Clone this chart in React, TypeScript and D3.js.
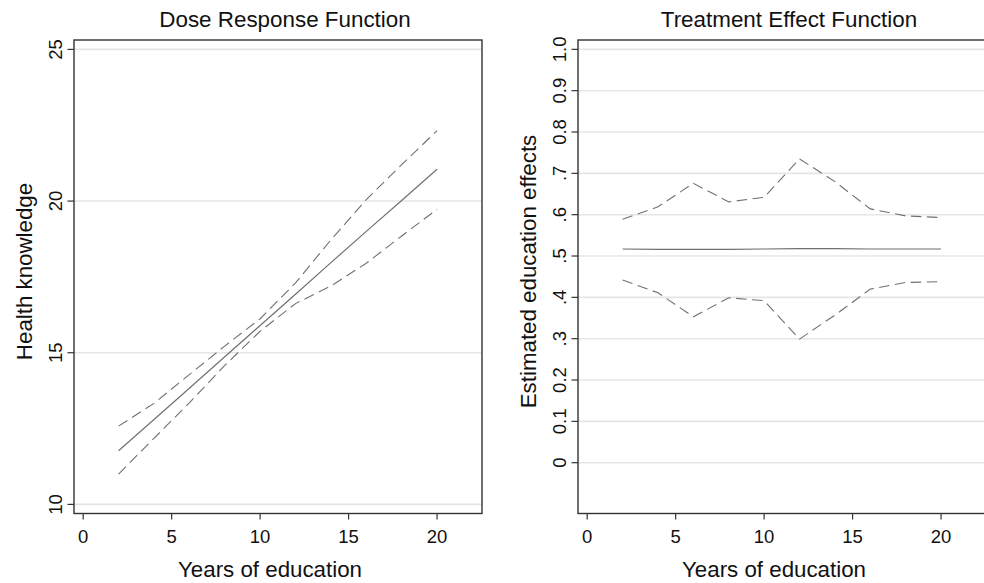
import React from "react";
import * as d3 from "d3";

// ---- Data ----
const years = [2, 4, 6, 8, 10, 12, 14, 16, 18, 20];

// Dose response function (health knowledge)
const doseEstimate = [11.77, 12.8, 13.83, 14.87, 15.9, 16.93, 17.97, 19.0, 20.02, 21.05];
const doseUpper = [12.58, 13.33, 14.28, 15.22, 16.12, 17.3, 18.72, 20.05, 21.2, 22.32];
const doseLower = [11.0, 12.18, 13.35, 14.58, 15.71, 16.62, 17.2, 17.95, 18.85, 19.73];

// Treatment effect function (estimated education effects)
const effEstimate = [0.517, 0.516, 0.516, 0.516, 0.517, 0.518, 0.518, 0.517, 0.517, 0.517];
const effUpper = [0.589, 0.619, 0.676, 0.631, 0.642, 0.735, 0.68, 0.614, 0.597, 0.593];
const effLower = [0.442, 0.411, 0.353, 0.399, 0.392, 0.299, 0.357, 0.42, 0.436, 0.438];

const xTicks = [0, 5, 10, 15, 20];
const doseYTicks = [10, 15, 20, 25];
const effYTicks = [0, 0.1, 0.2, 0.3, 0.4, 0.5, 0.6, 0.7, 0.8, 0.9, 1.0];
const effYTickLabels = ["0", "0.1", "0.2", ".3", ".4", ".5", ".6", ".7", "0.8", "0.9", "1.0"];

const FONT = "'Liberation Sans', Arial, Helvetica, sans-serif";
const TOP = 40;
const BOTTOM = 513.5;
const PW = 408;

type PanelProps = {
  left: number;
  title: string;
  yTitle: string;
  yDomain: [number, number];
  yTicks: number[];
  yTickLabels: string[];
  estimate: number[];
  upper: number[];
  lower: number[];
};

function Panel(p: PanelProps) {
  const x = d3.scaleLinear().domain([-0.52, 22.54]).range([p.left, p.left + PW]);
  const y = d3.scaleLinear().domain(p.yDomain).range([BOTTOM, TOP]);
  const line = (vals: number[]) =>
    d3.line<number>().x((_, i) => x(years[i])).y((v) => y(v))(vals) || "";
  const cx = p.left + PW / 2;
  const lineColor = "#707070";
  return (
    <g>
      <text x={p.left + 211} y={26.5} textAnchor="middle" fontSize={22.4} fill="#111">
        {p.title}
      </text>
      {/* gridlines */}
      {p.yTicks.map((t) => (
        <line key={"g" + t} x1={p.left} x2={p.left + PW} y1={y(t)} y2={y(t)} stroke="#e6e6e6" strokeWidth={1.6} />
      ))}
      {/* frame */}
      <rect x={p.left} y={TOP} width={PW} height={BOTTOM - TOP} fill="none" stroke="#333" strokeWidth={1.4} />
      {/* y ticks */}
      {p.yTicks.map((t, i) => (
        <g key={"y" + t}>
          <line x1={p.left - 6.5} x2={p.left} y1={y(t)} y2={y(t)} stroke="#333" strokeWidth={1.2} />
          <text
            transform={`translate(${p.left - 12.5},${y(t)}) rotate(-90)`}
            textAnchor="middle"
            fontSize={18.5}
            fill="#111"
          >
            {p.yTickLabels[i]}
          </text>
        </g>
      ))}
      {/* x ticks */}
      {xTicks.map((t) => (
        <g key={"x" + t}>
          <line x1={x(t)} x2={x(t)} y1={BOTTOM} y2={BOTTOM + 6} stroke="#333" strokeWidth={1.2} />
          <text x={x(t)} y={543.3} textAnchor="middle" fontSize={18.5} fill="#111">
            {t}
          </text>
        </g>
      ))}
      <text x={cx - 8} y={576.5} textAnchor="middle" fontSize={22.3} fill="#111">
        Years of education
      </text>
      <text
        transform={`translate(${p.left - 42.5},${271.5}) rotate(-90)`}
        textAnchor="middle"
        fontSize={22.3}
        fill="#111"
      >
        {p.yTitle}
      </text>
      {/* series */}
      <path d={line(p.upper)} fill="none" stroke={lineColor} strokeWidth={1.1} strokeDasharray="10.5,5.5" />
      <path d={line(p.lower)} fill="none" stroke={lineColor} strokeWidth={1.1} strokeDasharray="10.5,5.5" />
      <path d={line(p.estimate)} fill="none" stroke={lineColor} strokeWidth={1.2} />
    </g>
  );
}

export default function App() {
  return (
    <svg
      width={984}
      height={583}
      style={{ position: "absolute", left: 0, top: 0, display: "block", background: "#fff" }}
      fontFamily={FONT}
    >
      <rect x={0} y={0} width={984} height={583} fill="#fff" />
      <Panel
        left={74}
        title="Dose Response Function"
        yTitle="Health knowledge"
        yDomain={[9.7, 25.31]}
        yTicks={doseYTicks}
        yTickLabels={doseYTicks.map(String)}
        estimate={doseEstimate}
        upper={doseUpper}
        lower={doseLower}
      />
      <Panel
        left={578}
        title="Treatment Effect Function"
        yTitle="Estimated education effects"
        yDomain={[-0.1229, 1.0226]}
        yTicks={effYTicks}
        yTickLabels={effYTickLabels}
        estimate={effEstimate}
        upper={effUpper}
        lower={effLower}
      />
    </svg>
  );
}
